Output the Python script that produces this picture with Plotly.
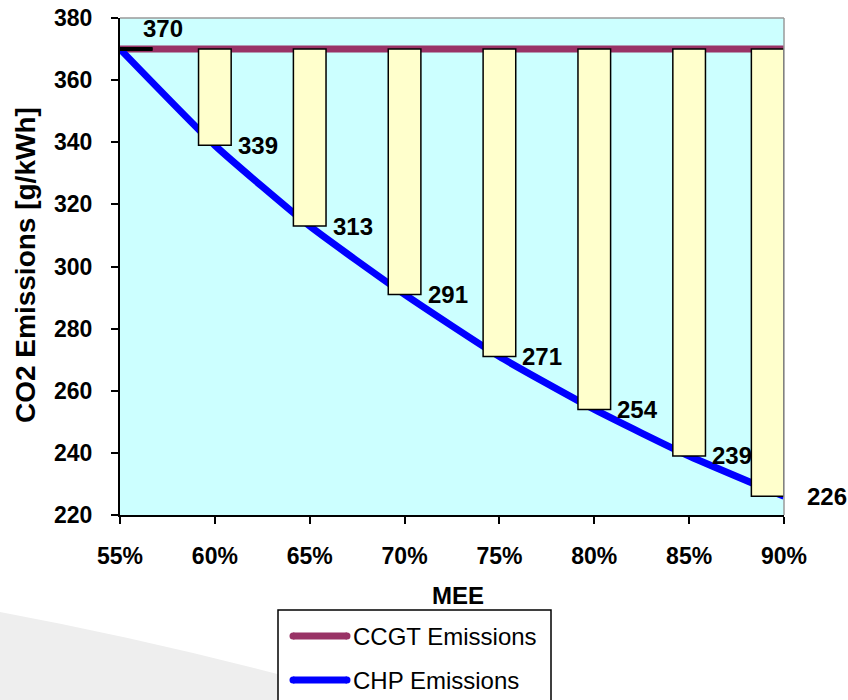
import plotly.graph_objects as go

# Efficiency levels (MEE, %) and specific CO2 emissions (g/kWh)
mee = [55, 60, 65, 70, 75, 80, 85, 90]
mee_labels = ["55%", "60%", "65%", "70%", "75%", "80%", "85%", "90%"]
ccgt_emissions = [370, 370, 370, 370, 370, 370, 370, 370]
chp_emissions = [370, 339, 313, 291, 271, 254, 239, 226]

y_ticks = [220, 240, 260, 280, 300, 320, 340, 360, 380]

# Styling
FONT = "Liberation Sans, Arial, sans-serif"
CYAN_BG = "#CCFFFF"
BAR_FILL = "#FFFFCC"
CCGT_COLOR = "#993366"
CHP_COLOR = "#0000FF"
BAR_W = 1.72

W, H = 848, 700
M_L, M_R, M_T, M_B = 120, 64, 18, 185
PW, PH = W - M_L - M_R, H - M_T - M_B


def px(xp):
    return (xp - M_L) / PW


def py(yp):
    return (H - M_B - yp) / PH


fig = go.Figure()

# Reference lines (drawn underneath the savings bars)
fig.add_trace(go.Scatter(
    x=mee, y=ccgt_emissions, mode="lines", name="CCGT Emissions",
    line=dict(color=CCGT_COLOR, width=7), showlegend=False,
))
fig.add_trace(go.Scatter(
    x=mee, y=chp_emissions, mode="lines", name="CHP Emissions",
    line=dict(color=CHP_COLOR, width=7, shape="spline", smoothing=0.5),
    showlegend=False,
))

# Savings bars: span from the CHP value up to the CCGT value
offsets = [0.0] + [-BAR_W / 2] * (len(mee) - 2) + [-BAR_W]
fig.add_trace(go.Bar(
    x=mee,
    base=chp_emissions,
    y=[c - h for c, h in zip(ccgt_emissions, chp_emissions)],
    width=BAR_W, offset=offsets,
    marker=dict(color=BAR_FILL, line=dict(color="black", width=1.5)),
    xaxis="x2", yaxis="y2", showlegend=False, hoverinfo="skip",
))

# Value labels beside each CHP point
annotations = []
for i, (x, v) in enumerate(zip(mee, chp_emissions)):
    annotations.append(dict(
        x=x, y=v, xref="x", yref="y", text=str(v), showarrow=False,
        xanchor="left", yanchor="middle", xshift=21, yshift=21 if i == 0 else 0,
        font=dict(family=FONT, size=24, color="black", weight="bold"),
    ))

# Axis titles
annotations.append(dict(
    x=px(25), y=py(265), xref="paper", yref="paper", text="CO2 Emissions [g/kWh]",
    showarrow=False, textangle=-90, xanchor="center", yanchor="middle",
    font=dict(family=FONT, size=28, color="black", weight="bold"),
))
annotations.append(dict(
    x=px(458), y=py(595), xref="paper", yref="paper", text="MEE",
    showarrow=False, xanchor="center", yanchor="middle",
    font=dict(family=FONT, size=24, color="black", weight="bold"),
))

# Legend entries
legend_items = [("CCGT Emissions", CCGT_COLOR, 636), ("CHP Emissions", CHP_COLOR, 680)]
shapes = []

# light swoosh in the lower-left background
shapes.append(dict(
    type="path", xref="paper", yref="paper", layer="below",
    path=(f"M {px(0)},{py(612)} Q {px(150)},{py(640)} {px(300)},{py(680)} "
          f"L {px(300)},{py(700)} L {px(0)},{py(700)} Z"),
    fillcolor="#EEEEEE", line=dict(width=0),
))

# grey frame on the top and right of the plot area
shapes.append(dict(type="line", xref="paper", yref="paper", x0=0, x1=1, y0=1, y1=1,
                   line=dict(color="#9A9A9A", width=1.5), layer="above"))
shapes.append(dict(type="line", xref="paper", yref="paper", x0=1, x1=1, y0=0, y1=1,
                   line=dict(color="#9A9A9A", width=1.5), layer="above"))

# zero-height bar at the first efficiency level
shapes.append(dict(type="line", xref="x", yref="y",
                   x0=mee[0], x1=mee[0] + BAR_W,
                   y0=ccgt_emissions[0], y1=chp_emissions[0],
                   line=dict(color="black", width=4), layer="above"))

# legend box
shapes.append(dict(type="rect", xref="paper", yref="paper",
                   x0=px(278), x1=px(551), y0=py(712), y1=py(610),
                   fillcolor="white", line=dict(color="black", width=1.5), layer="above"))
for label, color, yy in legend_items:
    shapes.append(dict(type="line", xref="paper", yref="paper",
                       x0=px(293), x1=px(347), y0=py(yy), y1=py(yy),
                       line=dict(color=color, width=7), layer="above"))
    for cx in (293, 347):
        r = 3.5
        shapes.append(dict(type="circle", xref="paper", yref="paper",
                           x0=px(cx - r), x1=px(cx + r), y0=py(yy + r), y1=py(yy - r),
                           fillcolor=color, line=dict(width=0), layer="above"))
    annotations.append(dict(
        x=px(351), y=py(yy), xref="paper", yref="paper", text=label, showarrow=False,
        xanchor="left", yanchor="middle",
        font=dict(family=FONT, size=24, color="black"),
    ))

axis_font = dict(family=FONT, size=23, color="black", weight="bold")

fig.update_layout(
    template="none",
    width=W, height=H,
    margin=dict(l=M_L, r=M_R, t=M_T, b=M_B, pad=0),
    paper_bgcolor="white",
    plot_bgcolor=CYAN_BG,
    font=dict(family=FONT, color="black"),
    showlegend=False,
    barmode="overlay",
    xaxis=dict(
        range=[55, 90], tickmode="array", tickvals=mee, ticktext=mee_labels,
        showgrid=False, zeroline=False,
        showline=True, linecolor="black", linewidth=2,
        ticks="outside", ticklen=7, tickwidth=1.5, tickcolor="black",
        tickfont=axis_font, ticklabelstandoff=12,
        automargin=False,
    ),
    yaxis=dict(
        range=[220, 380], tickmode="array", tickvals=y_ticks,
        showgrid=False, zeroline=False,
        showline=True, linecolor="black", linewidth=2,
        ticks="outside", ticklen=7, tickwidth=1.5, tickcolor="black",
        tickfont=axis_font, ticklabelstandoff=14,
        automargin=False,
    ),
    xaxis2=dict(range=[55, 90], overlaying="x", visible=False, showgrid=False, zeroline=False),
    yaxis2=dict(range=[220, 380], overlaying="y", visible=False, showgrid=False, zeroline=False),
    shapes=shapes,
    annotations=annotations,
)

fig.write_html("out.html")
